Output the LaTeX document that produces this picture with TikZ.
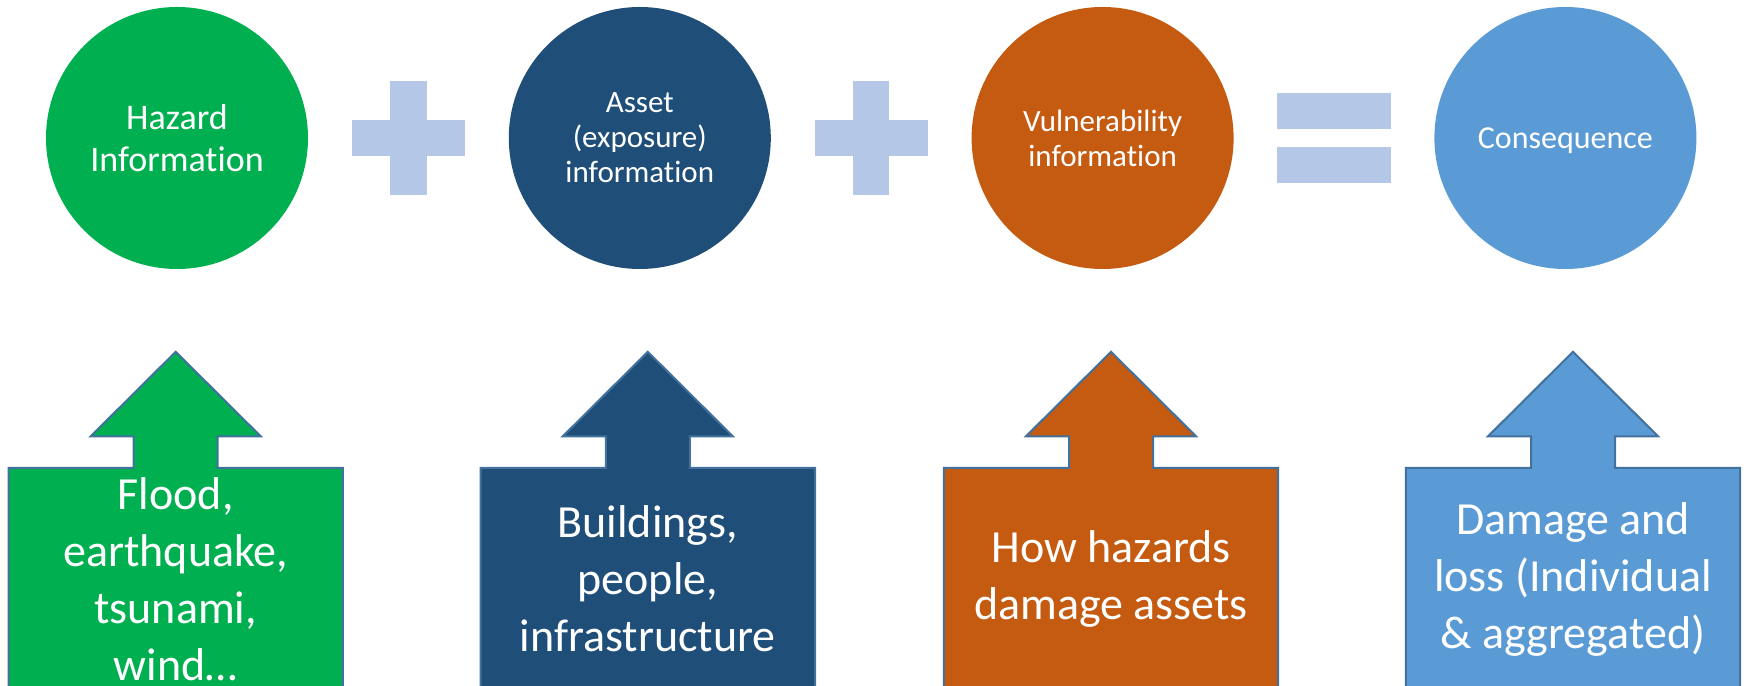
\documentclass[tikz,border=0pt]{standalone}
\usepackage{fontspec}
\setmainfont[Ligatures=NoCommon]{Carlito}
\usetikzlibrary{backgrounds}

\definecolor{hazgreen}{HTML}{00B050}
\definecolor{assetblue}{HTML}{1F4E79}
\definecolor{vulnorange}{HTML}{C55A11}
\definecolor{consblue}{HTML}{5B9BD5}
\definecolor{opblue}{HTML}{B4C7E7}
\definecolor{edgeblue}{HTML}{41719C}

\begin{document}
\begin{tikzpicture}[x=1pt,y=1pt,node distance=231.4pt,
    info/.style={circle,minimum size=262pt,inner sep=0pt,text=white,align=center,
      font=\fontsize{31}{35}\selectfont},
    hbar/.style={rectangle,fill=opblue,minimum width=113.4pt,minimum height=36.5pt,inner sep=0pt},
    vbar/.style={rectangle,fill=opblue,minimum width=36.5pt,minimum height=113.4pt,inner sep=0pt},
    srcbox/.style={rectangle,minimum width=334pt,minimum height=222pt,inner sep=0pt,
      text=white,align=center,font=\fontsize{46}{57}\selectfont},
    callout/.style={draw=edgeblue,line width=2pt,line join=miter}]
      \useasboundingbox (0,0) rectangle (1744,685);

      % top row: hazard + asset + vulnerability = consequence
      \node[info,fill=hazgreen,font=\fontsize{36}{41.7}\selectfont] (hazard) at (177,547) {Hazard\\Information};
      \node[hbar] (plus1) [right of=hazard] {};
      \node[vbar] (plus1v) at (plus1) {};
      \node[info,fill=assetblue] (asset) [right of=plus1] {Asset\\(exposure)\\information};
      \node[hbar] (plus2) [right of=asset] {};
      \node[vbar] (plus2v) at (plus2) {};
      \node[info,fill=vulnorange] (vuln) [right of=plus2] {Vulnerability\\information};
      \node[inner sep=0pt] (eq) [right of=vuln] {};
      \node[hbar] (eqtop) [above of=eq,node distance=27pt] {};
      \node[hbar] (eqbot) [below of=eq,node distance=27pt] {};
      \node[info,fill=consblue] (cons) [right of=eq] {};
      \node[text=white,font=\fontsize{32}{35}\selectfont] (constext) at ([yshift=-3pt]cons.center) {Consequence};

      % bottom row: the sources under each circle
      \node[srcbox] (hazsrc) [below of=hazard,node distance=441pt,xshift=-1.3pt] {Flood,\\earthquake,\\tsunami,\\wind…};
      \node[srcbox] (assetsrc) [below of=asset,node distance=441pt,xshift=8pt] {Buildings,\\people,\\infrastructure};
      \node[srcbox] (vulnsrc) [below of=vuln,node distance=441pt,xshift=8.4pt] {How hazards\\damage assets};
      \node[srcbox] (conssrc) [below of=cons,node distance=441pt,xshift=7.6pt] {Damage and\\loss (Individual\\\& aggregated)};

      \begin{scope}[on background layer]
      \draw[callout,fill=hazgreen] (hazsrc.south west) |- ([xshift=-42pt]hazsrc.north) -- ++(0,31.5) -- ++(-43,0) -- ++(85,84.5) -- ++(85,-84.5) -- ++(-43,0) -- ++(0,-31.5) -| (hazsrc.south east) -- cycle;
      \draw[callout,fill=assetblue] (assetsrc.south west) |- ([xshift=-42pt]assetsrc.north) -- ++(0,31.5) -- ++(-43,0) -- ++(85,84.5) -- ++(85,-84.5) -- ++(-43,0) -- ++(0,-31.5) -| (assetsrc.south east) -- cycle;
      \draw[callout,fill=vulnorange] (vulnsrc.south west) |- ([xshift=-42pt]vulnsrc.north) -- ++(0,31.5) -- ++(-43,0) -- ++(85,84.5) -- ++(85,-84.5) -- ++(-43,0) -- ++(0,-31.5) -| (vulnsrc.south east) -- cycle;
      \draw[callout,fill=consblue] (conssrc.south west) |- ([xshift=-42pt]conssrc.north) -- ++(0,31.5) -- ++(-43,0) -- ++(85,84.5) -- ++(85,-84.5) -- ++(-43,0) -- ++(0,-31.5) -| (conssrc.south east) -- cycle;
      \end{scope}
    \end{tikzpicture}
\end{document}
